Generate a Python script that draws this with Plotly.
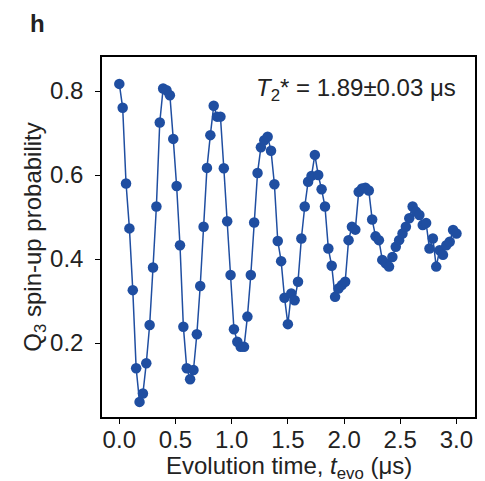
import plotly.graph_objects as go

t_evo = [round(0.03 * i, 2) for i in range(101)]
prob = [
    0.817, 0.760, 0.580, 0.473, 0.326, 0.140, 0.060, 0.080, 0.152, 0.243,
    0.380, 0.525, 0.725, 0.806, 0.802, 0.790, 0.686, 0.574, 0.433, 0.239,
    0.140, 0.114, 0.136, 0.221, 0.336, 0.477, 0.617, 0.695, 0.765, 0.739,
    0.739, 0.616, 0.490, 0.362, 0.233, 0.203, 0.191, 0.191, 0.263, 0.362,
    0.487, 0.605, 0.666, 0.683, 0.691, 0.658, 0.578, 0.443, 0.395, 0.308,
    0.245, 0.318, 0.302, 0.346, 0.449, 0.525, 0.584, 0.598, 0.648, 0.600,
    0.566, 0.525, 0.425, 0.384, 0.310, 0.330, 0.338, 0.346, 0.445, 0.477,
    0.470, 0.560, 0.568, 0.570, 0.563, 0.494, 0.454, 0.445, 0.398, 0.390,
    0.382, 0.405, 0.429, 0.445, 0.461, 0.477, 0.497, 0.525, 0.513, 0.505,
    0.481, 0.486, 0.425, 0.449, 0.382, 0.421, 0.410, 0.433, 0.441, 0.469,
    0.461,
]
x_ticks = [0.0, 0.5, 1.0, 1.5, 2.0, 2.5, 3.0]
y_ticks = [0.2, 0.4, 0.6, 0.8]

color = "#1f4ea1"
font = "Liberation Sans, Arial, sans-serif"
fs = 24

fig = go.Figure()
fig.add_trace(go.Scatter(
    x=t_evo, y=prob, mode="lines+markers",
    line=dict(color=color, width=1.5),
    marker=dict(color=color, size=10.5),
    showlegend=False,
))

axis_common = dict(
    showline=True, linecolor="black", linewidth=1.5, mirror=True,
    ticks="outside", ticklen=5, tickwidth=1.2, tickcolor="black",
    showgrid=False, zeroline=False, automargin=False,
    tickfont=dict(family=font, size=fs, color="#222"),
)

fig.update_layout(
    width=485, height=481,
    margin=dict(l=102, r=10, t=57, b=64),
    paper_bgcolor="white", plot_bgcolor="white",
    xaxis=dict(
        range=[-0.154, 3.165], tickvals=x_ticks,
        ticktext=[f"{v:.1f}" for v in x_ticks],
        ticklabelstandoff=-5,
        **axis_common,
    ),
    yaxis=dict(
        range=[0.024, 0.881], tickvals=y_ticks,
        ticktext=[f"{v:.1f}" for v in y_ticks],
        ticklabelstandoff=7,
        title=dict(text="Q<sub>3</sub> spin-up probability",
                   font=dict(family=font, size=fs, color="#222"), standoff=0),
        **axis_common,
    ),
    annotations=[
        dict(text="Evolution time, <i>t</i><sub>evo</sub> (μs)",
             xref="paper", yref="paper", x=0.501, y=-0.092,
             xanchor="center", yanchor="top", showarrow=False,
             font=dict(family=font, size=fs, color="#222")),
        dict(text="<b>h</b>", xref="paper", yref="paper", x=-0.174, y=1.092,
             xanchor="center", yanchor="middle", showarrow=False,
             font=dict(family=font, size=24, color="#222")),
        dict(text="<i>T</i><sub>2</sub>* = 1.89±0.03 μs", xref="paper", yref="paper",
             x=0.955, y=0.91, xanchor="right", yanchor="middle", showarrow=False,
             font=dict(family=font, size=fs, color="#222")),
    ],
)

fig.write_html("out.html")
